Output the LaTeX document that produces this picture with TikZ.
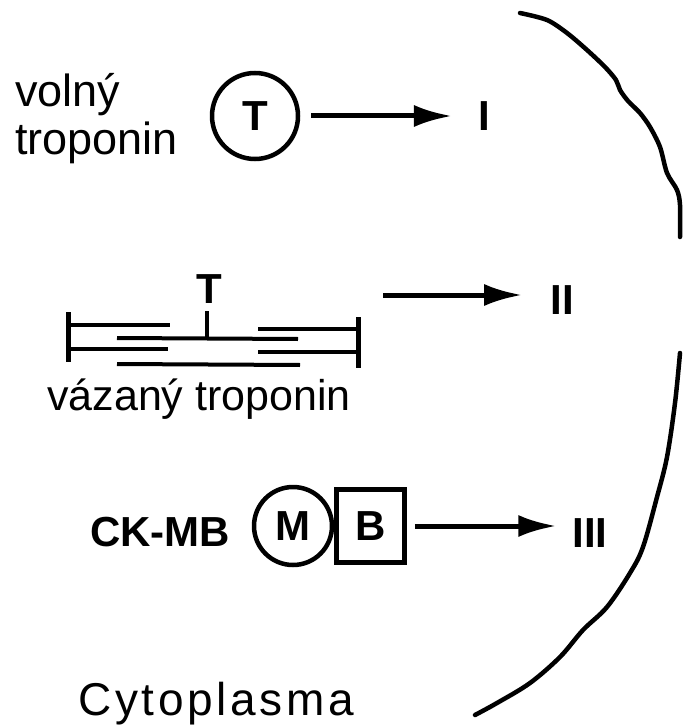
\documentclass[tikz,border=0pt]{standalone}
\usepackage{fontspec}
\setmainfont{Liberation Sans}
\usetikzlibrary{arrows.meta,positioning}

\begin{document}
\begin{tikzpicture}[x=1pt, y=-1pt,
  every node/.style={inner sep=0pt},
  lab/.style={font=\fontsize{45}{48}\selectfont, anchor=base west},
  sub/.style={font=\fontsize{42}{44}\selectfont\bfseries},
  mol/.style={draw, circle, line width=4.5pt, minimum size=#1, sub},
  link/.style={line width=5pt, -{Latex[length=38pt,width=22pt]}},
  fil/.style={line width=4pt},
  zline/.style={line width=5pt},
  membrane/.style={line width=4.5pt, line cap=round}
]
\useasboundingbox (0,0) rectangle (682,727);

% free troponin
\node[lab] (volny) at (15,107) {volný};
\node[lab] (tropfree) at (15,155) {troponin};
\node[mol=86pt] (tfree) at (255,116) {T};
\node[sub] (numI) at (484,116) {I};
\draw[link, shorten <=11pt, shorten >=26pt] (tfree.east) -- (tfree.east -| numI.west);

% bound troponin on the filaments
\draw[zline] (68,312) -- (68,362);
\draw[zline] (358,317) -- (358,368);
\draw[fil] (68,325) -- (170,325);
\draw[fil] (68,349) -- (168,349);
\draw[fil] (258,329) -- (358,329);
\draw[fil] (258,352) -- (358,352);
\draw[fil] (117,338) -- (298,339);
\draw[fil] (117,364) -- (300,365);
\coordinate (tsite) at (207,338);
\node[sub] (tbound) at (209,289) {T};
\draw[fil, line width=4.5pt] (tsite |- 0,311) -- (tsite);
\coordinate (fend) at (383,295);
\node[sub] (numII) at (562,300) {II};
\draw[link, shorten >=28pt] (fend) -- (fend -| numII.west);
\node[lab, font=\fontsize{43}{46}\selectfont] (tropbound) at (47,410) {vázaný troponin};

% CK-MB dimer
\node[sub, anchor=base west] (ckmb) at (90,546) {CK-MB};
\node[mol=78pt] (mono) at (293,526) {M};
\node[draw, sub, line width=4.5pt, minimum width=68pt, minimum height=73pt,
  right=0pt of mono] (bsub) {B};
\node[sub] (numIII) at (590,533) {III};
\draw[link, shorten <=8pt, shorten >=16pt] (bsub.east) -- (bsub.east -| numIII.west);

% cell membrane
\draw[membrane] plot[smooth, tension=0.5] coordinates {
  (520,13) (547,20) (567,33) (587,50) (605,67) (616,80) (620,90)
  (628,101) (640,113) (650,127) (660,147) (667,173) (677,190) (680,205) (680,237)};
\draw[membrane] plot[smooth, tension=0.55] coordinates {
  (680,353) (675,403) (667,457) (657,497) (643,547) (630,573) (607,607)
  (583,630) (560,657) (530,683) (497,703) (475,715)};

\node[lab, font=\fontsize{46}{48}\selectfont\addfontfeature{LetterSpace=8}] (cyto) at (78,715) {Cytoplasma};
\end{tikzpicture}
\end{document}
